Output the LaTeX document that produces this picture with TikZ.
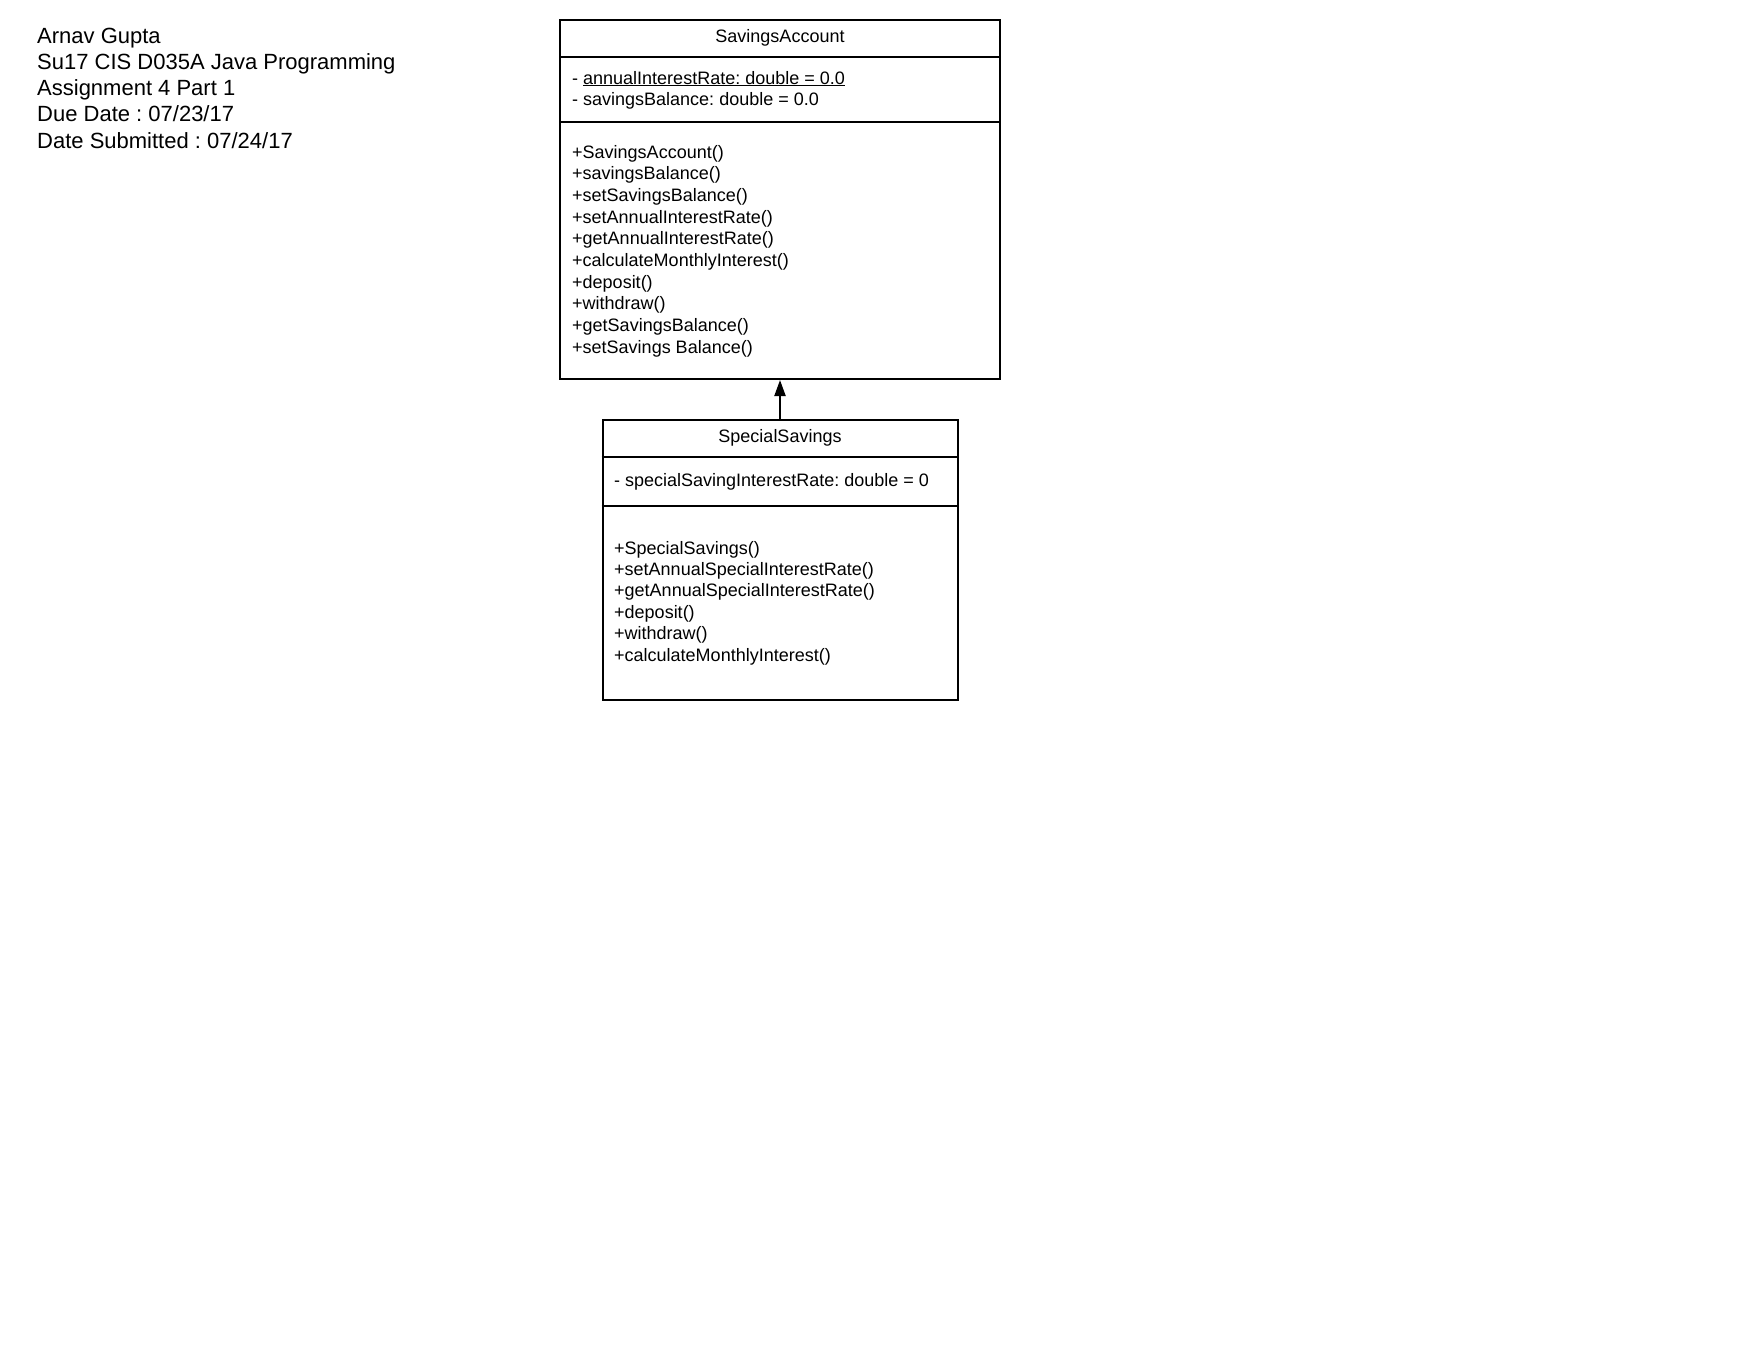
\documentclass[tikz,border=0pt]{standalone}
\usepackage{fontspec}
\setmainfont{Liberation Sans}
\usetikzlibrary{arrows.meta}
\frenchspacing

\begin{document}
\begin{tikzpicture}[x=1pt, y=-1pt,
  info/.style={anchor=base west, inner sep=0, font=\fontsize{22}{26}\selectfont},
  member/.style={anchor=base west, inner sep=0, font=\fontsize{18}{21.6}\selectfont},
  classname/.style={anchor=base, inner sep=0, font=\fontsize{18}{21.6}\selectfont},
  classbox/.style={draw, line width=2pt, inner sep=0},
  divider/.style={line width=2pt}]
\fill[white] (0,0) rectangle (1760,1360);
% heading
\foreach \txt [count=\i] in {Arnav Gupta, Su17 CIS D035A Java Programming, Assignment 4 Part 1, Due Date : 07/23/17, Date Submitted : 07/24/17}
  \node[info] (info\i) at (37,{43+26.25*(\i-1)}) {\txt};
% SavingsAccount
\node[classbox, minimum width=440pt, minimum height=359pt] (savings) at (780,199.5) {};
\draw[divider] ([yshift=-37.5pt]savings.north west) -- ([yshift=-37.5pt]savings.north east);
\draw[divider] ([yshift=-103pt]savings.north west) -- ([yshift=-103pt]savings.north east);
\node[classname] (savingsname) at (780,42.7) {SavingsAccount};
\node[member] (savingsattr1) at (572,84) {- \underline{annualInterestRate: double = 0.0}};
\node[member] (savingsattr2) at (572,105.3) {- savingsBalance: double = 0.0};
\foreach \op [count=\i] in {SavingsAccount(), savingsBalance(), setSavingsBalance(), setAnnualInterestRate(), getAnnualInterestRate(), calculateMonthlyInterest(), deposit(), withdraw(), getSavingsBalance(), setSavings Balance()}
  \node[member] (savingsop\i) at (572,{158.3+21.67*(\i-1)}) {+\op};
% SpecialSavings
\node[classbox, minimum width=355pt, minimum height=280pt] (special) at (780,560) {};
\draw[divider] ([yshift=-38pt]special.north west) -- ([yshift=-38pt]special.north east);
\draw[divider] ([yshift=-87pt]special.north west) -- ([yshift=-87pt]special.north east);
\node[classname] (specialname) at (780,442.7) {SpecialSavings};
\node[member] (specialattr) at (614,486.7) {- specialSavingInterestRate: double = 0};
\foreach \op [count=\i] in {SpecialSavings(), setAnnualSpecialInterestRate(), getAnnualSpecialInterestRate(), deposit(), withdraw(), calculateMonthlyInterest()}
  \node[member] (specialop\i) at (614,{554+21.4*(\i-1)}) {+\op};
% inheritance
\draw[line width=2pt, -{Triangle[length=16pt,width=11pt]}] (special) -- (savings);
\end{tikzpicture}
\end{document}
